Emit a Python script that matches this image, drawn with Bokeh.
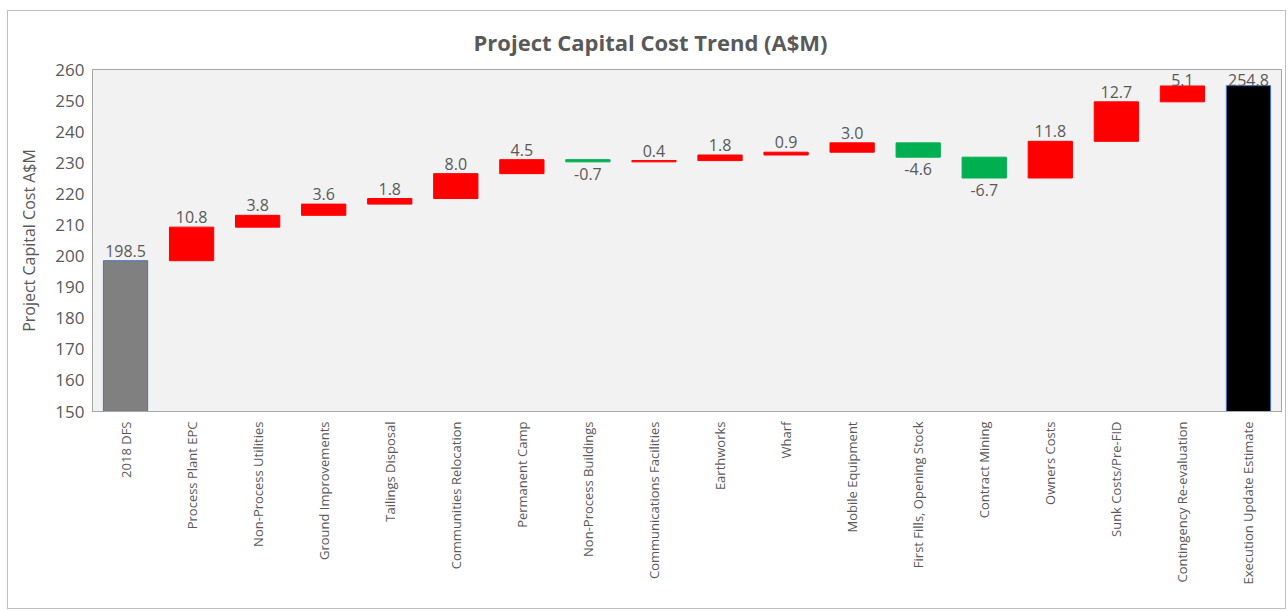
from bokeh.plotting import figure
from bokeh.models import ColumnDataSource
from bokeh.core.properties import value
from bokeh.embed import file_html
from bokeh.resources import INLINE
import math

categories = ["2018 DFS", "Process Plant EPC", "Non-Process Utilities", "Ground Improvements",
              "Tailings Disposal", "Communities Relocation", "Permanent Camp", "Non-Process Buildings",
              "Communications Facilities", "Earthworks", "Wharf", "Mobile Equipment",
              "First Fills, Opening Stock", "Contract Mining", "Owners Costs", "Sunk Costs/Pre-FID",
              "Contingency Re-evaluation", "Execution Update Estimate"]
start_value = 198.5
deltas = [10.8, 3.8, 3.6, 1.8, 8.0, 4.5, -0.7, 0.4, 1.8, 0.9, 3.0, -4.6, -6.7, 11.8, 12.7, 5.1]
end_value = 254.8
title_text = "Project Capital Cost Trend (A$M)"

FONT = "Open Sans"
TXT = "#595959"
Y_MAX = 260


def pos_offset(top):
    # labels close to the top of the plot area sit right on the bar
    return 0 if top > Y_MAX - 7 else -4


bottoms, tops, colors, lines, labels, label_y, baselines, offsets = [], [], [], [], [], [], [], []
bottoms.append(0); tops.append(start_value); colors.append("#808080"); lines.append("#4472C4")
labels.append(f"{start_value:.1f}"); label_y.append(start_value); baselines.append("bottom")
offsets.append(pos_offset(start_value))
running = start_value
for d in deltas:
    new = running + d
    lo, hi = min(running, new), max(running, new)
    bottoms.append(lo); tops.append(hi)
    if d >= 0:
        colors.append("#FF0000"); lines.append("#FF0000")
        label_y.append(hi); baselines.append("bottom"); offsets.append(pos_offset(hi))
    else:
        colors.append("#00B050"); lines.append("#00B050")
        label_y.append(lo); baselines.append("top"); offsets.append(6)
    labels.append(f"{d:.1f}")
    running = new
bottoms.append(0); tops.append(end_value); colors.append("#000000"); lines.append("#4472C4")
labels.append(f"{end_value:.1f}"); label_y.append(end_value); baselines.append("bottom")
offsets.append(pos_offset(end_value))

src = ColumnDataSource(dict(x=categories, bottom=bottoms, top=tops, color=colors, line=lines,
                            label=labels, ly=label_y, base=baselines, off=offsets))

p = figure(x_range=categories, y_range=(150, Y_MAX), width=1279, height=599,
           output_backend="svg", toolbar_location=None,
           min_border_left=84, min_border_right=6, min_border_top=58, min_border_bottom=199,
           title=title_text)
p.styles = {"border": "1px solid #BFBFBF", "margin-left": "7px", "margin-top": "10px"}
p.title.align = "left"
p.title.offset = 381
p.title.standoff = 26
p.title.text_font = FONT
p.title.text_font_size = "22px"
p.title.text_font_style = "bold"
p.title.text_color = TXT

p.background_fill_color = "#F2F2F2"
p.border_fill_color = "white"
p.outline_line_color = "#A6A6A6"
p.outline_line_width = 1
p.xgrid.visible = False
p.ygrid.visible = False

p.vbar(x="x", bottom="bottom", top="top", width=0.67, fill_color="color", line_color="line",
       line_width=1, source=src)
p.text(x="x", y="ly", text="label", text_baseline="base", text_align="center", y_offset="off",
       text_font=value(FONT), text_font_size="16px", text_color=TXT, source=src)

p.yaxis.ticker = list(range(150, Y_MAX + 1, 10))
p.yaxis.axis_label = "Project Capital Cost A$M"
p.yaxis.axis_label_text_font = FONT
p.yaxis.axis_label_text_font_size = "16px"
p.yaxis.axis_label_text_font_style = "normal"
p.yaxis.axis_label_text_color = TXT
p.yaxis.axis_label_standoff = 12
for ax in (p.xaxis[0], p.yaxis[0]):
    ax.major_label_text_font = FONT
    ax.major_label_text_color = TXT
    ax.axis_line_color = "#A6A6A6"
    ax.major_tick_line_color = None
    ax.minor_tick_line_color = None
    ax.major_tick_out = 0
    ax.major_tick_in = 0
p.yaxis.major_label_text_font_size = "17px"
p.yaxis.major_label_standoff = 8
p.xaxis.major_label_text_font_size = "13px"
p.xaxis.major_label_orientation = math.pi / 2
p.xaxis.major_label_standoff = 10

open("out.html", "w").write(file_html(p, INLINE))
